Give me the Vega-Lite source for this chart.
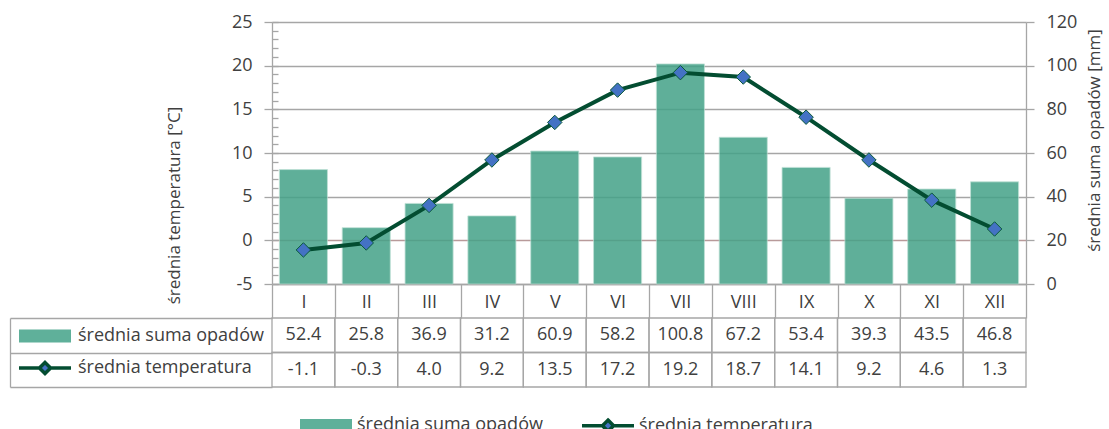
{
  "$schema": "https://vega.github.io/schema/vega-lite/v6.json",
  "padding": {"left": 9, "top": 13, "right": 3, "bottom": 0},
  "autosize": {"type": "pad"},
  "bounds": "flush",
  "spacing": 34,
  "config": {
    "view": {"stroke": null},
    "font": "Open Sans",
    "locale": {"number": {"decimal": ".", "thousands": ",", "grouping": [3], "currency": ["", ""], "minus": "-"}},
    "axis": {"labelFont": "Open Sans", "labelFontSize": 18, "labelColor": "#404040", "titleFont": "Open Sans", "titleFontSize": 17, "titleFontWeight": "normal", "titleColor": "#404040", "domainColor": "#a6a6a6", "tickColor": "#a6a6a6", "gridColor": "#a6a6a6", "domainWidth": 1.3, "tickWidth": 1.3, "gridWidth": 1.3},
    "legend": {"labelFont": "Open Sans", "labelFontSize": 18, "labelColor": "#404040", "labelLimit": 400, "padding": 0, "title": null}
  },
  "datasets": {
    "d": [
      {"mies": "I", "opady": 52.4, "temp": -1.1},
      {"mies": "II", "opady": 25.8, "temp": -0.3},
      {"mies": "III", "opady": 36.9, "temp": 4.0},
      {"mies": "IV", "opady": 31.2, "temp": 9.2},
      {"mies": "V", "opady": 60.9, "temp": 13.5},
      {"mies": "VI", "opady": 58.2, "temp": 17.2},
      {"mies": "VII", "opady": 100.8, "temp": 19.2},
      {"mies": "VIII", "opady": 67.2, "temp": 18.7},
      {"mies": "IX", "opady": 53.4, "temp": 14.1},
      {"mies": "X", "opady": 39.3, "temp": 9.2},
      {"mies": "XI", "opady": 43.5, "temp": 4.6},
      {"mies": "XII", "opady": 46.8, "temp": 1.3}
    ],
    "serie": []
  },
  "resolve": {
    "scale": {"fill": "independent", "stroke": "independent", "shape": "independent"},
    "legend": {"fill": "independent", "stroke": "independent", "shape": "independent"}
  },
  "vconcat": [
    {
      "width": 754,
      "height": 262,
      "data": {"name": "d"},
      "encoding": {
        "x": {
          "field": "mies", "type": "ordinal", "sort": null,
          "scale": {"paddingInner": 0, "paddingOuter": 0},
          "axis": {"title": null, "tickBand": "extent", "tickSize": 34, "labelPadding": -25, "labelAngle": 0, "grid": false, "labelBaseline": "top"}
        }
      },
      "layer": [
        {
          "mark": {"type": "bar", "width": {"band": 0.765}, "color": "#44a288", "opacity": 0.85, "stroke": "#b5dccf", "strokeWidth": 1, "strokeOpacity": 0.8},
          "encoding": {
            "y": {
              "field": "opady", "type": "quantitative",
              "scale": {"domain": [0, 120], "nice": false},
              "axis": {"orient": "right", "values": [0, 20, 40, 60, 80, 100, 120], "title": "średnia suma opadów [mm]", "grid": false, "tickSize": 8, "labelPadding": 12, "titleAngle": 270, "titleBaseline": "middle", "titleX": 68, "titleY": 118}
            }
          }
        },
        {
          "mark": {"type": "line", "strokeWidth": 4, "color": "#034d31"},
          "encoding": {
            "y": {
              "field": "temp", "type": "quantitative",
              "scale": {"domain": [-5, 25], "nice": false, "zero": false},
              "axis": {
                "orient": "left", "values": [-5, 0, 5, 10, 15, 20, 25], "title": "średnia temperatura [°C]", "grid": true, "tickSize": 8, "labelPadding": 12,
                "titleAngle": 270, "titleBaseline": "middle", "titleX": -98, "titleY": 183,
                "gridColor": {"condition": {"test": "datum.value === 0", "value": "#b89a9a"}, "value": "#a6a6a6"}
              }
            }
          }
        },
        {
          "mark": {"type": "point", "shape": "diamond", "filled": true, "fill": "#4472c4", "stroke": "#0b5a3a", "strokeWidth": 1, "size": 210, "opacity": 1},
          "encoding": {
            "y": {
              "field": "temp", "type": "quantitative",
              "scale": {"domain": [-5, 25], "nice": false, "zero": false},
              "axis": {"orient": "left", "values": [-5,-4,-3,-2,-1,0,1,2,3,4,5,6,7,8,9,10,11,12,13,14,15,16,17,18,19,20,21,22,23,24,25], "labels": false, "domain": false, "grid": false, "title": null, "tickSize": -6}
            }
          }
        },
        {
          "data": {"name": "serie"},
          "mark": {"type": "point", "filled": true, "strokeWidth": 3.5, "opacity": 1},
          "encoding": {
            "x": {"field": "seria", "type": "nominal"},
            "fill": {
              "field": "seria", "type": "nominal",
              "scale": {"domain": ["średnia suma opadów", "średnia temperatura"], "range": ["#5fb09a", "#4472c4"]},
              "legend": {"orient": "none", "direction": "horizontal", "legendX": 44, "legendY": 393, "symbolSize": 256, "labelOffset": 21, "columnPadding": 32, "symbolStrokeWidth": 3.5}
            },
            "stroke": {
              "field": "seria", "type": "nominal",
              "scale": {"domain": ["średnia suma opadów", "średnia temperatura"], "range": ["transparent", "#034d31"]},
              "legend": {"orient": "none", "direction": "horizontal", "legendX": 44, "legendY": 393, "symbolSize": 256, "labelOffset": 21, "columnPadding": 32, "symbolStrokeWidth": 3.5}
            },
            "shape": {
              "field": "seria", "type": "nominal",
              "scale": {"domain": ["średnia suma opadów", "średnia temperatura"], "range": ["M-3.25,-0.8H3.25V0.8H-3.25Z", "M-3.25,0H-0.7M0.7,0H3.25M0,-0.7L0.7,0L0,0.7L-0.7,0Z"]},
              "legend": {"orient": "none", "direction": "horizontal", "legendX": 44, "legendY": 393, "symbolSize": 256, "labelOffset": 21, "columnPadding": 32, "symbolStrokeWidth": 3.5}
            }
          }
        }
      ],
      "resolve": {"scale": {"y": "independent", "x": "shared"}, "axis": {"y": "independent"}}
    },
    {
      "width": 754,
      "height": 69,
      "layer": [
        {
          "data": {"name": "d"},
          "transform": [{"fold": ["opady", "temp"], "as": ["wiersz", "wartosc"]}],
          "encoding": {
            "x": {"field": "mies", "type": "ordinal", "sort": null, "scale": {"paddingInner": 0, "paddingOuter": 0}, "axis": null},
            "y": {
              "field": "wiersz", "type": "ordinal", "sort": ["opady", "temp"],
              "scale": {"paddingInner": 0, "paddingOuter": 0},
              "axis": {"title": null, "labels": false, "offset": 262, "tickSize": -262, "tickBand": "extent", "domain": true}
            }
          },
          "layer": [
            {"mark": {"type": "rect", "fill": null, "fillOpacity": 0, "stroke": "#a6a6a6", "strokeWidth": 1.3}},
            {
              "mark": {"type": "text", "fontSize": 18, "color": "#404040", "font": "Open Sans"},
              "encoding": {"text": {"field": "wartosc", "type": "quantitative", "format": ".1f"}}
            }
          ]
        },
        {
          "data": {"name": "serie"},
          "mark": {"type": "point", "filled": true, "strokeWidth": 3.5, "opacity": 1},
          "encoding": {
            "fill": {
              "field": "seria", "type": "nominal",
              "scale": {"domain": ["średnia suma opadów", "średnia temperatura"], "range": ["#5fb09a", "#4472c4"]},
              "legend": {"orient": "none", "direction": "vertical", "legendX": -237, "legendY": 8, "symbolSize": 256, "labelOffset": 23, "rowPadding": 5, "symbolStrokeWidth": 3.5}
            },
            "stroke": {
              "field": "seria", "type": "nominal",
              "scale": {"domain": ["średnia suma opadów", "średnia temperatura"], "range": ["transparent", "#034d31"]},
              "legend": {"orient": "none", "direction": "vertical", "legendX": -237, "legendY": 8, "symbolSize": 256, "labelOffset": 23, "rowPadding": 5, "symbolStrokeWidth": 3.5}
            },
            "shape": {
              "field": "seria", "type": "nominal",
              "scale": {"domain": ["średnia suma opadów", "średnia temperatura"], "range": ["M-3.25,-0.8H3.25V0.8H-3.25Z", "M-3.25,0H-0.7M0.7,0H3.25M0,-0.7L0.7,0L0,0.7L-0.7,0Z"]},
              "legend": {"orient": "none", "direction": "vertical", "legendX": -237, "legendY": 8, "symbolSize": 256, "labelOffset": 23, "rowPadding": 5, "symbolStrokeWidth": 3.5}
            }
          }
        }
      ]
    }
  ]
}
